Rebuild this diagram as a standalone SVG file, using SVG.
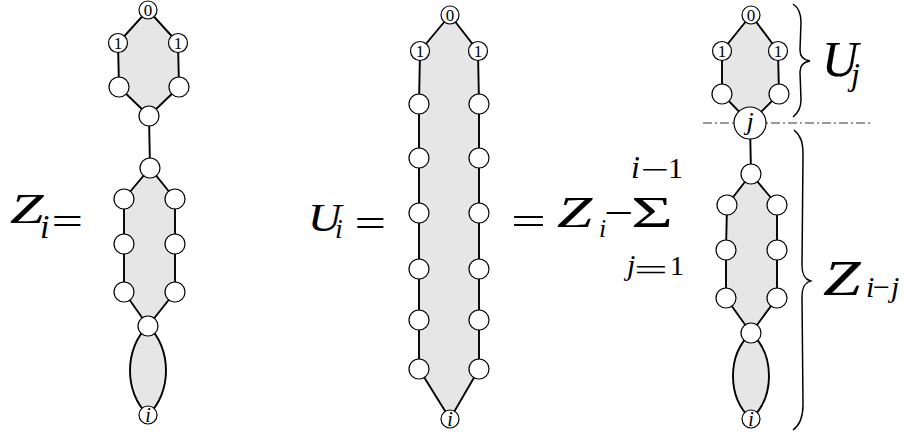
<svg xmlns="http://www.w3.org/2000/svg" width="904" height="435" viewBox="0 0 904 435">
<style>
.reg{fill:#e6e6e6;stroke:#000;stroke-width:1.9;stroke-linejoin:miter}
.edge{fill:none;stroke:#000;stroke-width:1.9}
.n{fill:#fff;stroke:#000;stroke-width:1.2}
.lbl{font-family:"Liberation Serif",serif;font-size:17px;text-anchor:middle;fill:#000}
.it{font-family:"Liberation Serif",serif;font-style:italic;fill:#000}
.rm{font-family:"Liberation Serif",serif;fill:#000}
.big{stroke:#000;stroke-width:0.2}
.brace{fill:none;stroke:#000;stroke-width:1.5}
</style>
<rect width="904" height="435" fill="#fff"/>

<g id="connectors">
  <polygon class="reg" points="148,10 118,43 119,87 149,116 179,87 178,43"/>
  <line class="edge" x1="149" y1="116" x2="150" y2="168"/>
  <polygon class="reg" points="150,168 124,199 124,244 124,292 148,326 175,292 175,244 175,199"/>
  <path class="reg" d="M148,326 C124,348 124,393 148,415 C172,393 172,348 148,326 Z"/>
  <polygon class="reg" points="450,15 420,51 419,104 419,158 419,213 419,269 419,320 419,369 450,419 479,369 479,320 479,269 479,213 479,158 479,104 478,51"/>
  <polygon class="reg" points="751,15 722,51 722,94 750,123 779,94 778,51"/>
  <line class="edge" x1="750" y1="123" x2="751" y2="174"/>
  <polygon class="reg" points="751,174 727,205 726,250 726,298 751,333 777,298 777,250 777,205"/>
  <path class="reg" d="M751,333 C727,355 727,397 751,419 C775,397 775,355 751,333 Z"/>
  <line x1="703" y1="123" x2="872" y2="123" stroke="#333" stroke-width="1" stroke-dasharray="9 3 2 3"/>
  <path class="brace" d="M793,4 C799,8 801,14 801,22 L800,50 C800,56 803,60 810,61 C803,62 800,66 800,72 L801,100 C801,108 798,113 793,117"/>
  <path class="brace" d="M794,130 C801,136 803,142 803,155 L802,265 C802,274 804,279 810.5,281 C804,283 802,288 802,297 L803,405 C803,418 800,425 793,430"/>
</g>

<g id="z-n0"><circle class="n" cx="148" cy="10" r="9"/><text class="lbl" x="148" y="16">0</text></g>
<g id="z-n1a"><circle class="n" cx="118" cy="43" r="9.5"/><text class="lbl" x="118" y="49">1</text></g>
<g id="z-n1b"><circle class="n" cx="178" cy="43" r="9.5"/><text class="lbl" x="178" y="49">1</text></g>
<g id="z-a"><circle class="n" cx="119" cy="87" r="10"/></g>
<g id="z-b"><circle class="n" cx="179" cy="87" r="10"/></g>
<g id="z-c"><circle class="n" cx="149" cy="116" r="10"/></g>
<g id="z-d"><circle class="n" cx="150" cy="168" r="10"/></g>
<g id="z-e"><circle class="n" cx="124" cy="199" r="10"/></g>
<g id="z-f"><circle class="n" cx="175" cy="199" r="10"/></g>
<g id="z-g"><circle class="n" cx="124" cy="244" r="10"/></g>
<g id="z-h"><circle class="n" cx="175" cy="244" r="10"/></g>
<g id="z-k"><circle class="n" cx="124" cy="292" r="10"/></g>
<g id="z-l"><circle class="n" cx="175" cy="292" r="10"/></g>
<g id="z-m"><circle class="n" cx="148" cy="326" r="10"/></g>
<g id="z-ni"><circle class="n" cx="148" cy="415" r="9"/><text class="it" x="148" y="422" font-size="20" text-anchor="middle">i</text></g>

<g id="u-n0"><circle class="n" cx="450" cy="15" r="9"/><text class="lbl" x="450" y="21">0</text></g>
<g id="u-n1a"><circle class="n" cx="420" cy="51" r="9.5"/><text class="lbl" x="420" y="57">1</text></g>
<g id="u-n1b"><circle class="n" cx="478" cy="51" r="9.5"/><text class="lbl" x="478" y="57">1</text></g>
<g id="u-l1"><circle class="n" cx="419" cy="104" r="10"/></g>
<g id="u-r1"><circle class="n" cx="479" cy="104" r="10"/></g>
<g id="u-l2"><circle class="n" cx="419" cy="158" r="10"/></g>
<g id="u-r2"><circle class="n" cx="479" cy="158" r="10"/></g>
<g id="u-l3"><circle class="n" cx="419" cy="213" r="10"/></g>
<g id="u-r3"><circle class="n" cx="479" cy="213" r="10"/></g>
<g id="u-l4"><circle class="n" cx="419" cy="269" r="10"/></g>
<g id="u-r4"><circle class="n" cx="479" cy="269" r="10"/></g>
<g id="u-l5"><circle class="n" cx="419" cy="320" r="10"/></g>
<g id="u-r5"><circle class="n" cx="479" cy="320" r="10"/></g>
<g id="u-l6"><circle class="n" cx="419" cy="369" r="10"/></g>
<g id="u-r6"><circle class="n" cx="479" cy="369" r="10"/></g>
<g id="u-ni"><circle class="n" cx="450" cy="419" r="9"/><text class="it" x="450" y="426" font-size="20" text-anchor="middle">i</text></g>

<g id="r-n0"><circle class="n" cx="751" cy="15" r="9"/><text class="lbl" x="751" y="21">0</text></g>
<g id="r-n1a"><circle class="n" cx="722" cy="51" r="9.5"/><text class="lbl" x="722" y="57">1</text></g>
<g id="r-n1b"><circle class="n" cx="778" cy="51" r="9.5"/><text class="lbl" x="778" y="57">1</text></g>
<g id="r-a"><circle class="n" cx="722" cy="94" r="10"/></g>
<g id="r-b"><circle class="n" cx="779" cy="94" r="10"/></g>
<g id="r-nj"><circle class="n" cx="750" cy="123" r="16"/><text class="it" x="750" y="130" font-size="26" text-anchor="middle">j</text></g>
<g id="r-c"><circle class="n" cx="751" cy="174" r="10"/></g>
<g id="r-d"><circle class="n" cx="727" cy="205" r="10"/></g>
<g id="r-e"><circle class="n" cx="777" cy="205" r="10"/></g>
<g id="r-f"><circle class="n" cx="726" cy="250" r="10"/></g>
<g id="r-g"><circle class="n" cx="777" cy="250" r="10"/></g>
<g id="r-h"><circle class="n" cx="726" cy="298" r="10"/></g>
<g id="r-k"><circle class="n" cx="777" cy="298" r="10"/></g>
<g id="r-m"><circle class="n" cx="751" cy="333" r="10"/></g>
<g id="r-ni"><circle class="n" cx="751" cy="419" r="9"/><text class="it" x="751" y="426" font-size="20" text-anchor="middle">i</text></g>

<g id="label-zi">
  <text class="it big" font-size="43" transform="translate(10,223) scale(1.4,1)">Z</text>
  <text class="it" font-size="34" x="40" y="238">i</text>
  <text class="rm" font-size="40" transform="translate(51.5,235) scale(1.4,1)">=</text>
</g>
<g id="label-ui">
  <text class="it big" font-size="40" transform="translate(308,231) scale(1.15,1)">U</text>
  <text class="it" font-size="28" x="335" y="238">i</text>
  <text class="rm" font-size="40" transform="translate(354.5,236.5) scale(1.4,1)">=</text>
</g>
<g id="label-sum">
  <text class="rm" font-size="40" transform="translate(511,235) scale(1.55,1)">=</text>
  <text class="it big" font-size="45" transform="translate(557,227) scale(1.4,1)">Z</text>
  <text class="it" font-size="26" x="599" y="237">i</text>
  <text class="rm" font-size="40" transform="translate(604,226) scale(1.3,1)">−</text>
  <text class="rm" font-size="45" transform="translate(631,227) scale(1.6,1)">Σ</text>
  <text class="it" font-size="32" x="631" y="178">i</text>
  <text class="rm" font-size="28" transform="translate(641,179) scale(1.8,1)">−</text>
  <text class="rm" font-size="30" x="668" y="178">1</text>
  <text class="it" font-size="30" x="627" y="275">j</text>
  <text class="rm" font-size="30" transform="translate(634,280) scale(2,1)">=</text>
  <text class="rm" font-size="28" x="670" y="275">1</text>
</g>
<g id="label-uj">
  <text class="it big" font-size="50" x="822" y="76">U</text>
  <text class="it" font-size="32" x="851" y="85">j</text>
</g>
<g id="label-zij">
  <text class="it big" font-size="50" transform="translate(823,295) scale(1.35,1)">Z</text>
  <text class="it" font-size="30" x="866" y="297">i</text>
  <text class="rm" font-size="30" x="873" y="297">−</text>
  <text class="it" font-size="30" x="891" y="297">j</text>
</g>
</svg>
